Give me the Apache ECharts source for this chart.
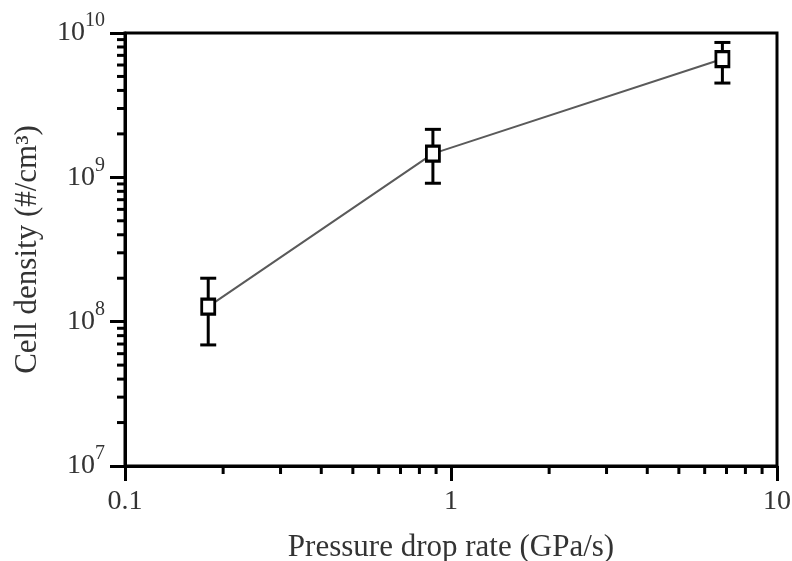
<!DOCTYPE html>
<html>
<head>
<meta charset="utf-8">
<script src="https://cdn.jsdelivr.net/npm/echarts@6/dist/echarts.min.js"></script>
<style>
  html, body { margin: 0; padding: 0; background: #fff; }
  #myChart { width: 792px; height: 561px; }
</style>
</head>
<body>
<div id="myChart"></div>
<script>
// 数据
const rates = [0.18, 0.88, 6.8]
const density = [1.27e8, 1.46e9, 6.6e9]
const errLow = [6.9e7, 9.1e8, 4.5e9]
const errHigh = [2.0e8, 2.15e9, 8.6e9]
const xRange = [0.1, 10]
const yRange = [1e7, 1e10]
const minorSteps = [2, 3, 4, 5, 6, 7, 8, 9]

const font = '"Liberation Serif", "Times New Roman", serif'
const textColor = '#333'

let myChart = echarts.init(document.getElementById('myChart'))

myChart.setOption({
  animation: false,
  backgroundColor: '#fff',
  grid: {
    left: 125,
    right: 15,
    top: 33,
    bottom: 95,
    outerBoundsMode: 'none',
    containLabel: false,
    show: true,
    borderColor: '#000',
    borderWidth: 3
  },
  xAxis: {
    type: 'log',
    logBase: 10,
    min: xRange[0],
    max: xRange[1],
    name: 'Pressure drop rate (GPa/s)',
    nameLocation: 'middle',
    nameGap: 66,
    nameTextStyle: { fontFamily: font, fontSize: 31, color: textColor },
    axisLine: { lineStyle: { color: '#000', width: 3 } },
    axisTick: { length: 15, lineStyle: { color: '#000', width: 3 } },
    splitLine: { show: false },
    axisLabel: {
      margin: 22,
      fontFamily: font,
      fontSize: 28,
      color: textColor,
      formatter: v => String(+(+v).toPrecision(3))
    }
  },
  yAxis: {
    type: 'log',
    logBase: 10,
    min: yRange[0],
    max: yRange[1],
    name: 'Cell density (#/cm³)',
    nameLocation: 'middle',
    nameGap: 82,
    nameTextStyle: { fontFamily: font, fontSize: 31, color: textColor },
    axisLine: { lineStyle: { color: '#000', width: 3 } },
    axisTick: { length: 15, lineStyle: { color: '#000', width: 3 } },
    splitLine: { show: false },
    axisLabel: {
      margin: 20,
      formatter: v => '{b|10}{s|' + Math.round(Math.log10(v)) + '}',
      rich: {
        b: { fontFamily: font, fontSize: 28, color: textColor },
        s: { fontFamily: font, fontSize: 20, color: textColor, padding: [0, 0, 24, 0] }
      }
    }
  },
  series: [
    {
      type: 'line',
      data: rates.map((r, i) => [r, density[i]]),
      symbol: 'none',
      lineStyle: { color: '#5a5a5a', width: 2 },
      z: 1
    },
    {
      // 误差线
      type: 'custom',
      data: rates.map((r, i) => [r, errLow[i], errHigh[i]]),
      encode: { x: 0, y: [1, 2] },
      z: 2,
      renderItem: function (params, api) {
        let lo = api.coord([api.value(0), api.value(1)])
        let hi = api.coord([api.value(0), api.value(2)])
        let w = 8
        let style = { stroke: '#000', lineWidth: 3 }
        return {
          type: 'group',
          children: [
            { type: 'line', shape: { x1: hi[0], y1: hi[1], x2: lo[0], y2: lo[1] }, style: style },
            { type: 'line', shape: { x1: hi[0] - w, y1: hi[1], x2: hi[0] + w, y2: hi[1] }, style: style },
            { type: 'line', shape: { x1: lo[0] - w, y1: lo[1], x2: lo[0] + w, y2: lo[1] }, style: style }
          ]
        }
      }
    },
    {
      type: 'scatter',
      data: rates.map((r, i) => [r, density[i]]),
      symbol: 'rect',
      symbolSize: [13, 15],
      itemStyle: { color: '#fff', borderColor: '#000', borderWidth: 3, opacity: 1 },
      z: 3
    }
  ]
})

// 对数副刻度（2..9），位置由坐标轴换算
let minorTicks = []
let axisX = myChart.convertToPixel({ xAxisIndex: 0 }, xRange[0])
let axisY = myChart.convertToPixel({ yAxisIndex: 0 }, yRange[0])
for (let d = xRange[0]; d < xRange[1] - 1e-9; d *= 10) {
  minorSteps.forEach(m => {
    let px = myChart.convertToPixel({ xAxisIndex: 0 }, m * d)
    minorTicks.push({ type: 'line', shape: { x1: px, y1: axisY, x2: px, y2: axisY + 8 }, style: { stroke: '#000', lineWidth: 3 } })
  })
}
for (let d = yRange[0]; d < yRange[1] - 1; d *= 10) {
  minorSteps.forEach(m => {
    let py = myChart.convertToPixel({ yAxisIndex: 0 }, m * d)
    minorTicks.push({ type: 'line', shape: { x1: axisX - 8, y1: py, x2: axisX, y2: py }, style: { stroke: '#000', lineWidth: 3 } })
  })
}
myChart.setOption({ graphic: minorTicks })
</script>
</body>
</html>
